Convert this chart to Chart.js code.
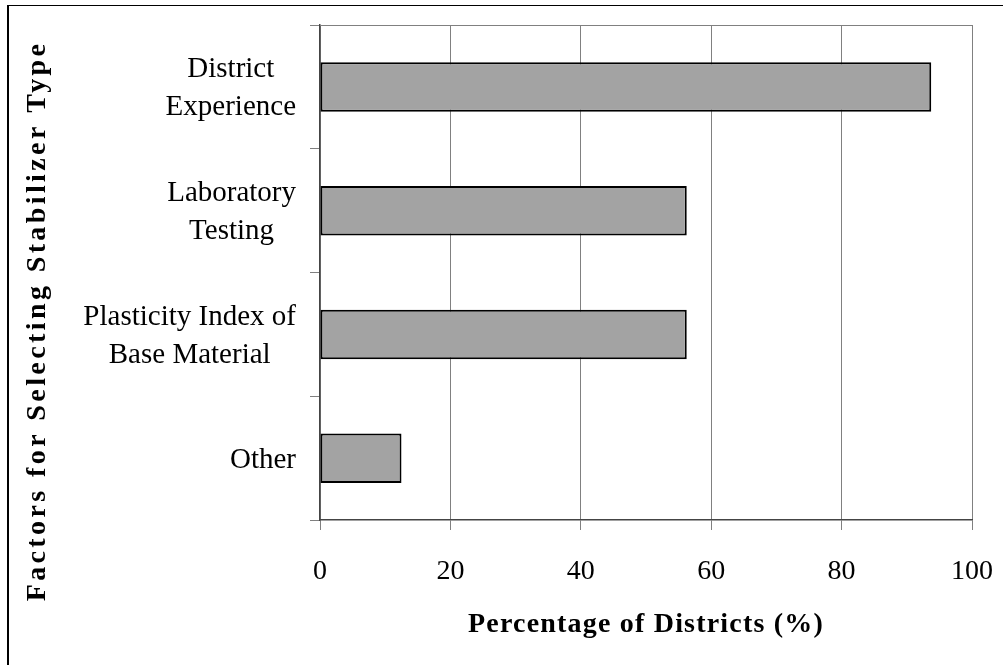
<!DOCTYPE html>
<html>
<head>
<meta charset="utf-8">
<script src="https://cdn.jsdelivr.net/npm/chart.js@4"></script>
<style>
    body { margin: 0; background: #fff; overflow: hidden; }
    #wrap { position: relative; width: 1003px; height: 665px; }
    #frame { position: absolute; left: 7px; top: 5px; width: 1100px; height: 800px;
             border-left: 2px solid #000; border-top: 1px solid #000; }
    canvas { position: absolute; left: 0; top: 0; }
</style>
</head>
<body>
<div id="wrap">
    <div id="frame"></div>
    <canvas id="factorsChart" width="1003" height="665"></canvas>
</div>
<script>
    // data
    const categories = [
        ['District', 'Experience'],
        ['Laboratory', 'Testing'],
        ['Plasticity Index of', 'Base Material'],
        ['Other']
    ];
    const percentages = [93.75, 56.25, 56.25, 12.5];
    const xTicks = [0, 20, 40, 60, 80, 100];

    const xTitle = 'Percentage of Districts (%)';
    const yTitle = 'Factors for Selecting Stabilizer Type';

    // category labels (block right-aligned, lines centred), titles, top border
    const extras = {
        id: 'extras',
        afterDraw(chart) {
            const { ctx, chartArea, scales } = chart;
            ctx.save();

            ctx.strokeStyle = '#808080';
            ctx.lineWidth = 1;
            ctx.beginPath();
            ctx.moveTo(chartArea.left, chartArea.top + 0.5);
            ctx.lineTo(chartArea.right, chartArea.top + 0.5);
            ctx.stroke();

            ctx.fillStyle = '#000';
            ctx.font = '29px "Liberation Serif"';
            ctx.textAlign = 'center';
            ctx.textBaseline = 'middle';
            categories.forEach((lines, i) => {
                const yc = scales.y.getPixelForValue(i);
                const w = Math.max(...lines.map(l => ctx.measureText(l).width));
                const xc = chartArea.left - 24 - w / 2;
                lines.forEach((l, k) => {
                    ctx.fillText(l, xc, yc + 2 + (k - (lines.length - 1) / 2) * 38);
                });
            });

            ctx.font = 'bold 28px "Liberation Serif"';
            ctx.letterSpacing = '1.2px';
            ctx.textBaseline = 'alphabetic';
            ctx.fillText(xTitle, (chartArea.left + chartArea.right) / 2, 632);

            ctx.letterSpacing = '3.4px';
            ctx.textBaseline = 'middle';
            ctx.translate(38, 321);
            ctx.rotate(-Math.PI / 2);
            ctx.fillText(yTitle, 0, 0);

            ctx.restore();
        }
    };

    const factorsElement = document.getElementById('factorsChart');
    if (factorsElement) {
        const ctx = factorsElement.getContext('2d');
        new Chart(ctx, {
            type: 'bar',
            data: {
                labels: categories,
                datasets: [{
                    data: percentages,
                    backgroundColor: '#a3a3a3',
                    borderColor: '#000',
                    borderWidth: 2,
                    borderSkipped: false,
                    categoryPercentage: 1,
                    barPercentage: 0.4
                }]
            },
            options: {
                indexAxis: 'y',
                responsive: false,
                animation: false,
                layout: { padding: { top: 25, right: 31, left: 0, bottom: 0 } },
                plugins: { legend: { display: false }, tooltip: { enabled: false } },
                scales: {
                    x: {
                        min: xTicks[0],
                        max: xTicks[xTicks.length - 1],
                        afterBuildTicks: scale => { scale.ticks = xTicks.map(v => ({ value: v })); },
                        afterFit: scale => {
                            scale.height = 145;
                            scale.paddingLeft = 0;
                            scale.paddingRight = 0;
                        },
                        grid: { color: '#808080', lineWidth: 1, tickLength: 10 },
                        border: { color: '#444', width: 1.5 },
                        ticks: {
                            color: '#000',
                            padding: 25,
                            maxRotation: 0,
                            font: { family: 'Liberation Serif', size: 28 }
                        }
                    },
                    y: {
                        afterFit: scale => {
                            scale.width = 320;
                            scale.paddingTop = 0;
                            scale.paddingBottom = 0;
                        },
                        grid: { drawOnChartArea: false, offset: true, color: '#808080', tickLength: 10 },
                        border: { color: '#444', width: 1.5 },
                        ticks: { display: false }
                    }
                }
            },
            plugins: [extras]
        });
    }
</script>
</body>
</html>
